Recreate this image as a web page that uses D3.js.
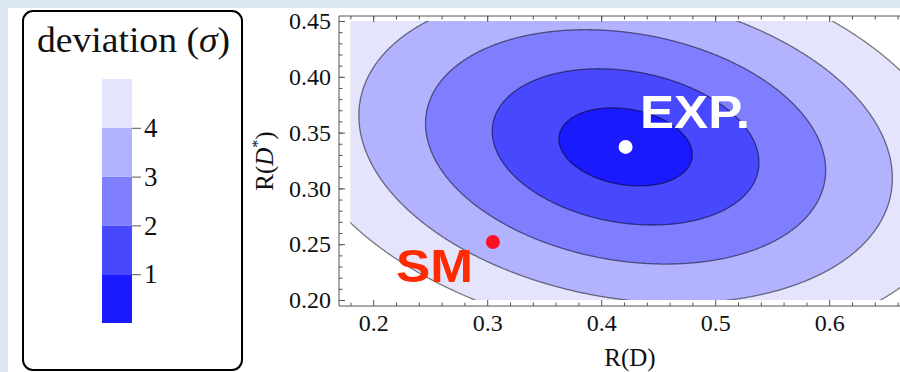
<!DOCTYPE html>
<html>
<head>
<meta charset="utf-8">
<script src="https://cdn.jsdelivr.net/npm/d3@7"></script>
<style>
  html, body { margin: 0; padding: 0; background: #dde8f4; }
  svg { display: block; }
</style>
</head>
<body>
<svg id="chart" width="900" height="372" font-family="Liberation Serif, Times New Roman, serif"></svg>
<script>
// Measured central values, uncertainties and correlation of (R(D), R(D*))
const expCentral = [0.4214, 0.3372];
const expSigma = [0.0585, 0.035];
const expCorrelation = -0.2;
// Standard Model prediction
const smCentral = [0.305, 0.252];

// Contour levels (in sigma) and legend ticks
const sigmaLevels = [1, 2, 3, 4, 5];
const legendTicks = [1, 2, 3, 4];

// Axis ticks
const xMajorTicks = [0.2, 0.3, 0.4, 0.5, 0.6];
const xMinorTicks = d3.range(9, 36).map(k => +(k * 0.02).toFixed(2));
const yMajorTicks = [0.20, 0.25, 0.30, 0.35, 0.40, 0.45];
const yMinorTicks = d3.range(20, 46).map(k => +(k / 100).toFixed(2));

// Plotted range of the deviation map
const xRange = [0.18, 0.70];
const yRange = [0.20, 0.45];

// Fill colours, darkest for the innermost band
const bandColors = ["#1a1aff", "#4848ff", "#7e7eff", "#b2b2ff", "#e4e4fd"];

const SERIF = "Liberation Serif, Times New Roman, serif";
const SANS = "Liberation Sans, Arial, sans-serif";

const svg = d3.select("#chart");

// white page panel
svg.append("rect")
  .attr("x", 8).attr("y", 8).attr("width", 892).attr("height", 364)
  .attr("fill", "#ffffff");

// ---------- scales ----------
const x = d3.scaleLinear().domain([0.17, 0.70]).range([339, 339 + 0.53 * 1140]);
const y = d3.scaleLinear().domain([0.20, 0.45]).range([300, 21]);

// deviation in sigma from the measured point
function deviation(rd, rds) {
  const u = (rd - expCentral[0]) / expSigma[0];
  const v = (rds - expCentral[1]) / expSigma[1];
  const r = expCorrelation;
  return Math.sqrt((u * u - 2 * r * u * v + v * v) / (1 - r * r));
}

// sample the deviation on a grid a little larger than the plotted range
const gx0 = 0.16, gy0 = 0.18, gdx = 0.001, gdy = 0.0005;
const nx = 561, ny = 601;
const field = new Float64Array(nx * ny);
for (let j = 0; j < ny; j++) {
  for (let i = 0; i < nx; i++) {
    field[j * nx + i] = -deviation(gx0 + i * gdx, gy0 + j * gdy);
  }
}

const gridProjection = d3.geoTransform({
  point(px, py) {
    this.stream.point(x(gx0 + (px - 0.5) * gdx), y(gy0 + (py - 0.5) * gdy));
  }
});
const path = d3.geoPath(gridProjection);
const contourGen = d3.contours().size([nx, ny]);

svg.append("clipPath").attr("id", "mapClip")
  .append("rect")
  .attr("x", x(xRange[0])).attr("y", y(yRange[1]))
  .attr("width", x(xRange[1]) - x(xRange[0]))
  .attr("height", y(yRange[0]) - y(yRange[1]));

const map = svg.append("g").attr("clip-path", "url(#mapClip)");

// bands: paint from the outermost level inwards
sigmaLevels.slice().reverse().forEach(s => {
  map.append("path")
    .attr("d", path(contourGen.contour(field, -s)))
    .attr("fill", bandColors[s - 1]);
});
// contour lines
sigmaLevels.forEach(s => {
  map.append("path")
    .attr("d", path(contourGen.contour(field, -s)))
    .attr("fill", "none")
    .attr("stroke", "#000")
    .attr("stroke-opacity", 0.5)
    .attr("stroke-width", 1.3);
});

// ---------- frame and axes ----------
const frameLeft = x(0.17), frameBottom = y(0.20) + 6, frameTop = y(0.45) - 5;
const frameRight = x(0.70) + 11;
const axisColor = "#555";

svg.append("path")
  .attr("d", `M${frameRight},${frameTop}H${frameLeft}V${frameBottom}H${frameRight}`)
  .attr("fill", "none").attr("stroke", axisColor).attr("stroke-width", 1);

function styleAxis(g, fontSize) {
  g.select(".domain").remove();
  g.attr("color", axisColor)
    .attr("font-family", SERIF)
    .attr("font-size", fontSize)
    .attr("font-weight", "normal");
  g.selectAll("text").attr("fill", "#111");
}

// bottom
svg.append("g").attr("transform", `translate(0,${frameBottom})`)
  .call(d3.axisBottom(x).tickValues(xMinorTicks.filter(v => !xMajorTicks.some(m => Math.abs(m - v) < 1e-9)))
    .tickSize(-3.5).tickFormat(""))
  .call(g => styleAxis(g, 24));
svg.append("g").attr("transform", `translate(0,${frameBottom})`)
  .call(d3.axisBottom(x).tickValues(xMajorTicks).tickSize(-6).tickPadding(8).tickFormat(d3.format(".1f")))
  .call(g => styleAxis(g, 24));
// top
svg.append("g").attr("transform", `translate(0,${frameTop})`)
  .call(d3.axisTop(x).tickValues(xMinorTicks).tickSize(-3.5).tickFormat(""))
  .call(g => styleAxis(g, 24));
svg.append("g").attr("transform", `translate(0,${frameTop})`)
  .call(d3.axisTop(x).tickValues(xMajorTicks).tickSize(-6).tickFormat(""))
  .call(g => styleAxis(g, 24));
// left
svg.append("g").attr("transform", `translate(${frameLeft},0)`)
  .call(d3.axisLeft(y).tickValues(yMinorTicks).tickSize(-3.5).tickFormat(""))
  .call(g => styleAxis(g, 24));
svg.append("g").attr("transform", `translate(${frameLeft},0)`)
  .call(d3.axisLeft(y).tickValues(yMajorTicks).tickSize(-6).tickPadding(8).tickFormat(d3.format(".2f")))
  .call(g => styleAxis(g, 24));

// axis titles
svg.append("text")
  .attr("x", 630).attr("y", 366)
  .attr("text-anchor", "middle")
  .attr("font-family", SERIF)
  .attr("font-size", 25).attr("fill", "#111")
  .text("R(D)");

const yTitle = svg.append("text")
  .attr("transform", "translate(273,161) rotate(-90)")
  .attr("text-anchor", "middle")
  .attr("font-family", SERIF)
  .attr("font-size", 25).attr("fill", "#111");
yTitle.append("tspan").text("R(");
yTitle.append("tspan").attr("font-style", "italic").text("D");
yTitle.append("tspan").attr("dy", -10).attr("font-size", 16).text("*");
yTitle.append("tspan").attr("dy", 10).text(")");

// ---------- points and labels ----------
svg.append("circle")
  .attr("cx", x(expCentral[0])).attr("cy", y(expCentral[1])).attr("r", 7)
  .attr("fill", "#ffffff");
svg.append("circle")
  .attr("cx", x(smCentral[0])).attr("cy", y(smCentral[1])).attr("r", 7)
  .attr("fill", "#ff1020");

svg.append("text")
  .attr("x", 640).attr("y", 128)
  .attr("textLength", 110).attr("lengthAdjust", "spacingAndGlyphs")
  .attr("font-family", SANS)
  .attr("font-weight", "bold").attr("font-size", 46)
  .attr("fill", "#ffffff")
  .text("EXP.");

svg.append("text")
  .attr("x", 396).attr("y", 282)
  .attr("textLength", 77).attr("lengthAdjust", "spacingAndGlyphs")
  .attr("font-family", SANS)
  .attr("font-weight", "bold").attr("font-size", 47)
  .attr("fill", "#ff2a00")
  .text("SM");

// ---------- legend ----------
svg.append("rect")
  .attr("x", 23).attr("y", 11).attr("width", 219).attr("height", 359).attr("rx", 10)
  .attr("fill", "#ffffff").attr("stroke", "#000").attr("stroke-width", 2);

const legTitle = svg.append("text")
  .attr("x", 37).attr("y", 52)
  .attr("textLength", 193).attr("lengthAdjust", "spacingAndGlyphs")
  .attr("font-family", SERIF)
  .attr("font-size", 35).attr("fill", "#111");
legTitle.append("tspan").text("deviation (");
legTitle.append("tspan").attr("font-style", "italic").text("σ");
legTitle.append("tspan").text(")");

const c = d3.scaleLinear().domain([0, 5]).range([323, 79]);
svg.append("g").selectAll("rect")
  .data(sigmaLevels)
  .join("rect")
  .attr("x", 102).attr("width", 30)
  .attr("y", s => c(s))
  .attr("height", s => c(s - 1) - c(s))
  .attr("fill", s => bandColors[s - 1]);

svg.append("g").attr("transform", "translate(132,0)")
  .call(d3.axisRight(c).tickValues(legendTicks).tickSize(9).tickPadding(3).tickFormat(d3.format("d")))
  .call(g => styleAxis(g, 27));
</script>
</body>
</html>
